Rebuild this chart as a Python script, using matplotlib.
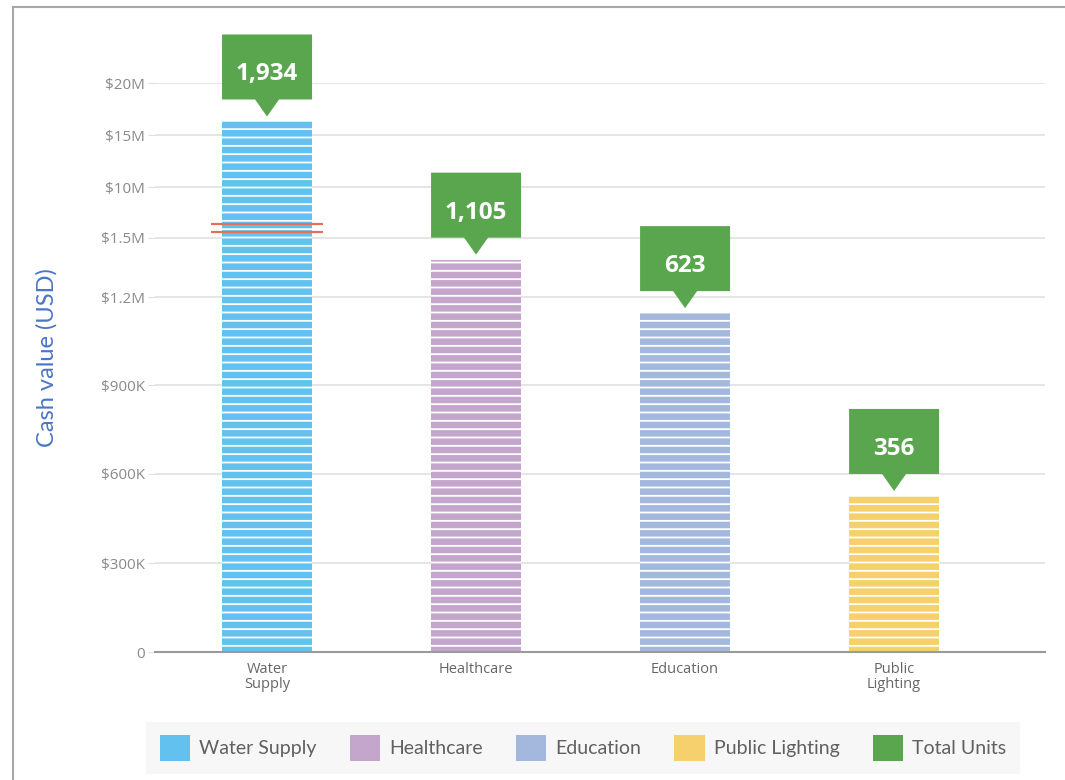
import numpy as np
import matplotlib
matplotlib.use('Agg')
import matplotlib.pyplot as plt
import matplotlib.transforms as mtransforms
from matplotlib.patches import Polygon, Patch
from matplotlib.lines import Line2D

# ---------------- data ----------------
categories = ['Water Supply', 'Healthcare', 'Education', 'Public Lighting']
x_tick_labels = ['Water\nSupply', 'Healthcare', 'Education', 'Public\nLighting']
cash_values = [16.3e6, 1.39e6, 1.145e6, 0.526e6]
total_units = [1934, 1105, 623, 356]
bar_colors = ['#62c1ee', '#c4a6cd', '#a4b8de', '#f6d06c']
units_color = '#5aa64f'
units_label = 'Total Units'
ytick_values = [0, 300e3, 600e3, 900e3, 1.2e6, 1.5e6, 10e6, 15e6, 20e6]
ytick_labels = ['0', '$300K', '$600K', '$900K', '$1.2M', '$1.5M', '$10M', '$15M', '$20M']
ylabel = 'Cash value (USD)'

# broken-axis scale: relative screen position of each tick
ytick_screen = [0, 89, 178, 267, 355, 414, 465, 517, 569]
break_values = [2.5e6, 3.83e6]   # where the break marks sit on the first bar

plt.rcParams['font.family'] = ['Open Sans', 'DejaVu Sans']
plt.rcParams['hatch.linewidth'] = 1.3

W, H = 1065, 780
fig = plt.figure(figsize=(W / 100, H / 100), dpi=100)
fig.patch.set_facecolor('white')
ax = fig.add_axes([155 / W, 128 / H, 890 / W, 569 / H])


def fwd(v):
    return np.interp(v, ytick_values, ytick_screen)


def inv(s):
    return np.interp(s, ytick_screen, ytick_values)


ax.set_yscale('function', functions=(fwd, inv))
ax.set_ylim(0, 20e6)
ax.set_xlim(-0.536, 3.722)

x = np.arange(len(categories))
bar_w = 0.43
ax.bar(x, cash_values, width=bar_w, color=bar_colors, edgecolor='white',
       linewidth=0, hatch='--', zorder=2)

# axis break marks on first bar
for bv in break_values:
    ax.plot([x[0] - 0.268, x[0] + 0.268], [bv, bv], color='#e07256', lw=1.6,
            zorder=4, clip_on=False, solid_capstyle='butt')

# callouts
p = 0.72  # px -> points at 100 dpi
callout = np.array([(-45, 87), (45, 87), (45, 22), (12, 22), (0, 5),
                    (-12, 22), (-45, 22)]) * p
for xi, top, n in zip(x, cash_values, total_units):
    anchor = mtransforms.ScaledTranslation(xi, top, ax.transData)
    tr = mtransforms.Affine2D().scale(fig.dpi / 72) + anchor
    poly = Polygon(callout, closed=True, facecolor=units_color, edgecolor='none',
                   transform=tr, clip_on=False, zorder=5)
    ax.add_artist(poly)
    ax.annotate(f'{n:,}', xy=(xi, top), xytext=(0, 41 * p),
                textcoords='offset points', ha='center', va='baseline',
                color='white', fontsize=17.5, fontweight='bold',
                family='Open Sans', zorder=6, annotation_clip=False)

# axes styling
ax.set_yticks(ytick_values, ytick_labels)
ax.yaxis.set_minor_locator(matplotlib.ticker.NullLocator())
ax.set_xticks(x, x_tick_labels)
ax.grid(axis='y', color='#e0e0e0', lw=1.2, zorder=0)
ax.set_axisbelow(True)
for s in ['top', 'right', 'left']:
    ax.spines[s].set_visible(False)
ax.spines['bottom'].set_color('#9a9a9a')
ax.spines['bottom'].set_linewidth(1.5)
ax.tick_params(axis='y', length=5, color='#e0e0e0', labelcolor='#8a8a8a',
               labelsize=11, pad=2)
ax.tick_params(axis='x', length=0, labelcolor='#666666', labelsize=10.5, pad=7)
for t in ax.get_xticklabels():
    t.set_linespacing(1.05)

ax.set_ylabel(ylabel, color='#4a76c6', fontsize=17, family=['Lato', 'DejaVu Sans'])
ax.yaxis.set_label_coords(-0.110, 0.518)

# legend
handles = [Patch(facecolor=c, label=l) for c, l in zip(bar_colors, categories)]
handles.append(Patch(facecolor=units_color, label=units_label))
leg = fig.legend(handles=handles, loc='center', bbox_to_anchor=(583 / W, 1 - 748 / H),
                 ncol=5, frameon=True, fancybox=False, facecolor='#f7f7f7',
                 edgecolor='none', framealpha=1,
                 prop={'family': ['Lato', 'DejaVu Sans'], 'size': 14},
                 handlelength=1.55, handleheight=1.65, handletextpad=0.46,
                 columnspacing=1.72, borderpad=0.7, borderaxespad=0)
for t in leg.get_texts():
    t.set_color('#606060')

# figure border (left and top)
fig.add_artist(Line2D([13 / W, 13 / W], [0, 1 - 7 / H], transform=fig.transFigure,
                      color='#a3a7ae', lw=1.5))
fig.add_artist(Line2D([13 / W, 1], [1 - 7 / H, 1 - 7 / H], transform=fig.transFigure,
                      color='#a3a7ae', lw=1.5))

fig.savefig('out.png', dpi=100)
